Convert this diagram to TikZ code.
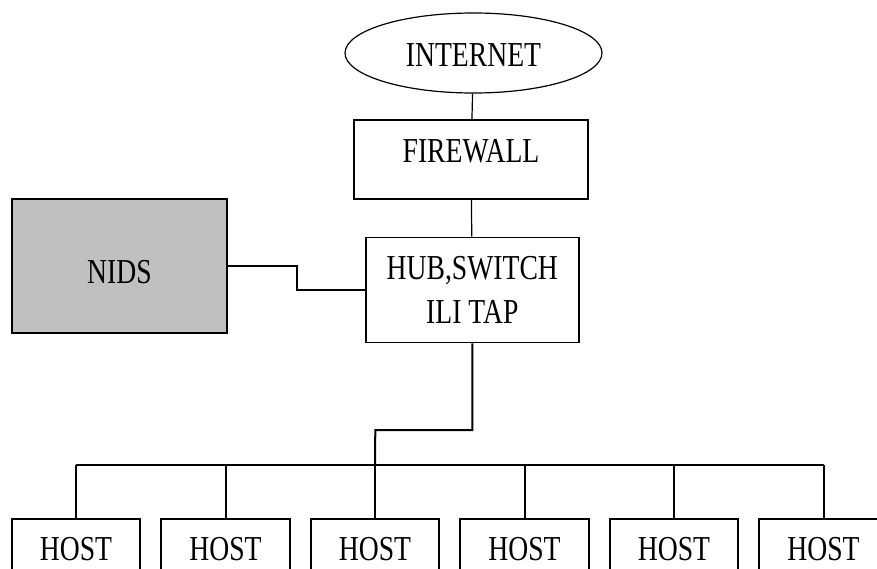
\documentclass[tikz,border=0pt]{standalone}
\usepackage{fontspec}
\setmainfont{Liberation Serif}[FakeStretch=0.79]
\usetikzlibrary{shapes.geometric}
\definecolor{nidsgray}{RGB}{192,192,192}
\begin{document}
\begin{tikzpicture}[x=1pt,y=-1pt,
        box/.style={draw,line width=1.8pt,inner sep=0pt,font=\fontsize{35}{43.3}\selectfont},
        wire/.style={line width=2pt},
        thinwire/.style={line width=1.2pt}]
        \clip (0,0) rectangle (877,568);
        
        \node [box,ellipse,line width=1.2pt,minimum width=257pt,minimum height=80pt,text height=27pt,text depth=0pt] (inet) at (473.5,53) {INTERNET};
        \node [box,minimum width=234pt,minimum height=79pt,text height=23pt,text depth=17pt] (fw) at (471,159.5) {FIREWALL};
        \node [box,align=center,minimum width=213pt,minimum height=105pt] (hub) at (472.3,290) {HUB,SWITCH\\ILI TAP};
        \node [box,fill=nidsgray,minimum width=215pt,minimum height=134pt,text height=34pt,text depth=0pt] (nids) at (119.5,266) {NIDS};
        \foreach \i in {1,...,6}
            \node [box,anchor=north,minimum width=128.5pt,minimum height=80pt,text height=23pt,text depth=18.7pt] (host\i) at ({76+149.5*(\i-1)},517.7) {HOST};
        
        \draw [thinwire] (inet) -- (fw);
        \draw [thinwire] (fw) -- (hub);
        \draw [wire] (nids.east) -- ++(69,0) |- (hub.west);
        \foreach \i in {1,...,6}
            \draw [wire] (host\i.north) -- ++(0,-53) coordinate (drop\i);
        \draw [wire] (drop1) -- (drop6);
        \coordinate (bend) at (375.3,430);
        \draw [wire] (hub.south) |- (bend) -- (drop3);
    \end{tikzpicture}
\end{document}
